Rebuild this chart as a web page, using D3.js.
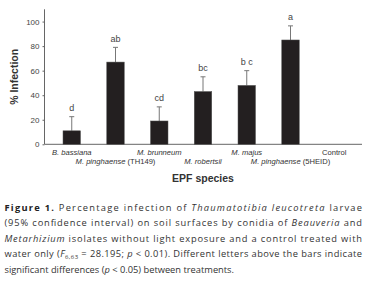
<!DOCTYPE html>
<html>
<head>
<meta charset="utf-8">
<script src="https://cdn.jsdelivr.net/npm/d3@7"></script>
<style>
  body { margin: 0; background: #fff; }
  svg { display: block; }
</style>
</head>
<body>
<svg width="369" height="283"></svg>
<script>
// data
const species = ["bassiana", "TH149", "brunneum", "robertsii", "majus", "5HEID", "Control"]
const infection = [11, 67, 19, 43, 48, 85, 0]
const upperCI = [22.5, 79, 30.5, 55, 60, 96.5, 0]
const letters = ["d", "ab", "cd", "bc", "b c", "a", ""]
const labelSpecies = ["B. bassiana", "M. pinghaense", "M. brunneum", "M. robertsii", "M. majus", "M. pinghaense", ""]
const labelExtra = ["", " (TH149)", "", "", "", " (5HEID)", "Control"]
const yTicks = [0, 20, 40, 60, 80, 100]

const captionLines = [
    [["b", "Figure 1."], ["r", " Percentage infection of "], ["i", "Thaumatotibia leucotreta"], ["r", " larvae"]],
    [["r", "(95% confidence interval) on soil surfaces by conidia of "], ["i", "Beauveria"], ["r", " and"]],
    [["i", "Metarhizium"], ["r", " isolates without light exposure and a control treated with"]],
    [["r", "water only ("], ["i", "F"], ["sub", "6,63"], ["up", " = 28.195; "], ["i", "p"], ["r", " < 0.01). Different letters above the bars indicate"]],
    [["r", "significant differences ("], ["i", "p"], ["r", " < 0.05) between treatments."]]
]

const svg = d3.select("svg")
const font = "'Liberation Sans', Arial, sans-serif"

const x = d3.scaleBand().domain(species).range([63, 343]).paddingInner(0.6)
const y = d3.scaleLinear().domain([0, 110]).range([144.3, 9.3])

// y axis
const yAxis = svg.append("g")
    .attr("transform", "translate(44.5, 0)")
    .call(d3.axisLeft(y).tickValues(yTicks).tickSize(2).tickPadding(3))
yAxis.select(".domain").attr("stroke", "#666").attr("d", `M-0,${y(110)}V${y(0)}`)
yAxis.selectAll(".tick line").attr("stroke", "#666")
yAxis.selectAll(".tick text")
    .style("font-family", font).style("font-size", "8px").attr("fill", "#444")

// x axis baseline
svg.append("line")
    .attr("x1", 44.5).attr("x2", 362)
    .attr("y1", y(0)).attr("y2", y(0))
    .attr("stroke", "#666").attr("stroke-width", 1)

// error bars
const err = svg.append("g").selectAll("g.err")
    .data(species.filter((d, i) => infection[i] > 0))
    .enter()
    .append("g")
    .attr("class", "err")
err.append("line")
    .attr("x1", d => x(d) + x.bandwidth() / 2)
    .attr("x2", d => x(d) + x.bandwidth() / 2)
    .attr("y1", d => y(infection[species.indexOf(d)]))
    .attr("y2", d => y(upperCI[species.indexOf(d)]))
    .attr("stroke", "#777").attr("stroke-width", 1)
err.append("line")
    .attr("x1", d => x(d) + x.bandwidth() / 2 - 2.5)
    .attr("x2", d => x(d) + x.bandwidth() / 2 + 2.5)
    .attr("y1", d => y(upperCI[species.indexOf(d)]))
    .attr("y2", d => y(upperCI[species.indexOf(d)]))
    .attr("stroke", "#777").attr("stroke-width", 1)

// bars
svg.append("g").selectAll("rect.bar")
    .data(species)
    .enter()
    .append("rect")
    .attr("class", "bar")
    .attr("x", d => x(d))
    .attr("width", x.bandwidth())
    .attr("y", (d, i) => y(infection[i]))
    .attr("height", (d, i) => y(0) - y(infection[i]))
    .attr("fill", "#231f20")
    .attr("stroke", "#555")
    .attr("stroke-width", 0.5)

// significance letters
svg.append("g").selectAll("text.letter")
    .data(species)
    .enter()
    .append("text")
    .attr("class", "letter")
    .attr("x", d => x(d) + x.bandwidth() / 2)
    .attr("y", (d, i) => y(upperCI[i]) - 5.5)
    .attr("text-anchor", "middle")
    .style("font-family", font).style("font-size", "9px").attr("fill", "#444")
    .text((d, i) => letters[i])

// category labels, staggered in two rows
const catLabels = svg.append("g").selectAll("text.cat")
    .data(species)
    .enter()
    .append("text")
    .attr("class", "cat")
    .attr("x", d => x(d) + x.bandwidth() / 2)
    .attr("y", (d, i) => i % 2 === 0 ? 155 : 164)
    .attr("text-anchor", "middle")
    .style("font-family", font).style("font-size", "7.6px").attr("fill", "#333")
catLabels.append("tspan")
    .style("font-style", "italic")
    .text((d, i) => labelSpecies[i])
catLabels.append("tspan")
    .text((d, i) => labelExtra[i])

// axis titles
svg.append("text")
    .attr("x", 203).attr("y", 182)
    .attr("text-anchor", "middle")
    .style("font-family", font).style("font-size", "10.5px").style("font-weight", "bold").attr("fill", "#333")
    .text("EPF species")

svg.append("text")
    .attr("transform", `translate(18, ${y(55)}) rotate(-90)`)
    .attr("text-anchor", "middle")
    .style("font-family", font).style("font-size", "10.5px").style("font-weight", "bold").attr("fill", "#333")
    .text("% Infection")

// caption
const capFont = "'Open Sans', 'Noto Sans', sans-serif"
const caption = svg.append("g")
captionLines.forEach((parts, li) => {
    const t = caption.append("text")
        .attr("x", 4.5)
        .attr("y", 211 + li * 15.4)
        .style("font-family", capFont).style("font-size", "9.3px").attr("fill", "#333")
    if (li < captionLines.length - 1) {
        t.attr("textLength", 357.5).attr("lengthAdjust", "spacing")
    }
    parts.forEach(([kind, str]) => {
        const s = t.append("tspan").text(str)
        if (kind === "b") s.style("font-weight", "bold").attr("fill", "#222")
        if (kind === "i") s.style("font-style", "italic")
        if (kind === "sub") s.style("font-size", "6px").attr("dy", 2)
        if (kind === "up") s.attr("dy", -2)
    })
})
</script>
</body>
</html>
